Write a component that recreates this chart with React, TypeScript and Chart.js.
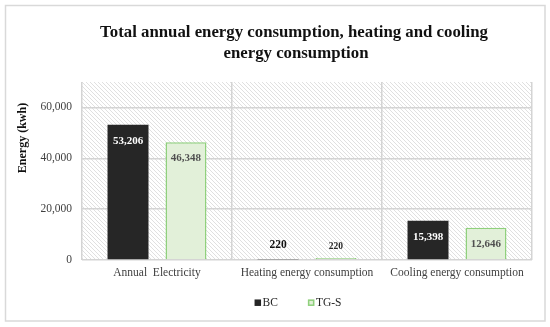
import React, { useEffect, useRef } from "react";
import { Chart, registerables } from "chart.js";

Chart.register(...registerables);

const categories = ["Annual  Electricity", "Heating energy consumption", "Cooling energy consumption"];
const bcValues = [53206, 220, 15398];
const tgsValues = [46348, 220, 12646];
const seriesNames = ["BC", "TG-S"];
const yTicks = [0, 20000, 40000, 60000];
const yMax = 70000;
const titleLines = ["Total annual energy consumption, heating and cooling", "energy consumption"];
const yTitle = "Energy (kwh)";

const SERIF = "'Times New Roman', 'Liberation Serif', serif";
const BC_COLOR = "#262626";
const TG_FILL = "#e2f0d9";
const TG_BORDER = "#8fd07c";
const GRID = "#d4d4d4";

function makeHatch(ctx: CanvasRenderingContext2D) {
  const s = 4;
  const c = document.createElement("canvas");
  c.width = s;
  c.height = s;
  const g = c.getContext("2d")!;
  g.fillStyle = "#ffffff";
  g.fillRect(0, 0, s, s);
  g.strokeStyle = "#e0e0e0";
  g.lineWidth = 1;
  g.beginPath();
  g.moveTo(-1, -1);
  g.lineTo(s + 1, s + 1);
  g.moveTo(-1, s - 1);
  g.lineTo(1, s + 1);
  g.moveTo(s - 1, -1);
  g.lineTo(s + 1, 1);
  g.stroke();
  return ctx.createPattern(c, "repeat")!;
}

const bgPlugin = {
  id: "bgPlugin",
  beforeDraw(chart: any) {
    const { ctx, chartArea: a } = chart;
    ctx.save();
    ctx.fillStyle = "#ffffff";
    ctx.fillRect(0, 0, chart.width, chart.height);
    ctx.strokeStyle = "#d9d9d9";
    ctx.lineWidth = 1.5;
    ctx.strokeRect(5.5, 5.5, 539.5, 315.5);
    ctx.fillStyle = makeHatch(ctx);
    ctx.fillRect(a.left, a.top, a.right - a.left, a.bottom - a.top);
    ctx.restore();
  },
};

const labelPlugin = {
  id: "labelPlugin",
  afterDatasetsDraw(chart: any) {
    const { ctx } = chart;
    ctx.save();
    ctx.textAlign = "center";
    ctx.textBaseline = "middle";
    chart.data.datasets.forEach((ds: any, di: number) => {
      const meta = chart.getDatasetMeta(di);
      meta.data.forEach((el: any, i: number) => {
        const v = ds.data[i] as number;
        const h = Math.abs(el.base - el.y);
        const txt = v.toLocaleString("en-US");
        if (h > 30) {
          ctx.font = `bold 11px ${SERIF}`;
          ctx.fillStyle = di === 0 ? "#ffffff" : "#505050";
          ctx.fillText(txt, el.x, el.y + 16);
        } else {
          ctx.font = di === 0 ? `bold 11.5px ${SERIF}` : `bold 9.5px ${SERIF}`;
          ctx.fillStyle = di === 0 ? "#111111" : "#262626";
          ctx.fillText(txt, el.x, el.base - 14 - (di === 0 ? 0.5 : -1));
        }
      });
    });
    ctx.restore();
  },
};

const textPlugin = {
  id: "textPlugin",
  afterDraw(chart: any) {
    const { ctx } = chart;
    ctx.save();
    ctx.fillStyle = "#111111";
    ctx.font = `bold 16.8px ${SERIF}`;
    ctx.textAlign = "center";
    ctx.textBaseline = "middle";
    ctx.fillText(titleLines[0], 294, 33);
    ctx.fillText(titleLines[1], 296, 54);
    ctx.save();
    ctx.translate(23, 138);
    ctx.rotate(-Math.PI / 2);
    ctx.font = `bold 12px ${SERIF}`;
    ctx.fillText(yTitle, 0, 0);
    ctx.restore();
    ctx.font = `11.5px ${SERIF}`;
    ctx.textAlign = "left";
    const y = 302.7;
    const box = 6.5;
    const w0 = box + 1.5 + ctx.measureText(seriesNames[0]).width;
    const w1 = box + 1.5 + ctx.measureText(seriesNames[1]).width;
    const gap = 30;
    let x = 298 - (w0 + gap + w1) / 2;
    ctx.fillStyle = BC_COLOR;
    ctx.fillRect(x, y - 3.25, box, box);
    ctx.fillStyle = "#262626";
    ctx.fillText(seriesNames[0], x + box + 1.5, y);
    x += w0 + gap;
    ctx.fillStyle = TG_FILL;
    ctx.fillRect(x, y - 3.25, box, box);
    ctx.strokeStyle = TG_BORDER;
    ctx.lineWidth = 1.5;
    ctx.strokeRect(x + 0.75, y - 2.5, box - 1.5, box - 1.5);
    ctx.fillStyle = "#262626";
    ctx.fillText(seriesNames[1], x + box + 1.5, y);
    ctx.restore();
  },
};

export default function App() {
  const ref = useRef<HTMLCanvasElement | null>(null);
  useEffect(() => {
    if (!ref.current) return;
    const chart = new Chart(ref.current, {
      type: "bar",
      data: {
        labels: categories,
        datasets: [
          {
            label: seriesNames[0],
            data: bcValues,
            backgroundColor: BC_COLOR,
            borderWidth: 0,
            barPercentage: 0.707,
            categoryPercentage: 0.773,
          },
          {
            label: seriesNames[1],
            data: tgsValues,
            backgroundColor: TG_FILL,
            borderColor: TG_BORDER,
            borderWidth: 1.5,
            borderSkipped: "start",
            minBarLength: 2,
            barPercentage: 0.707,
            categoryPercentage: 0.773,
          },
        ],
      },
      options: {
        responsive: false,
        animation: false,
        devicePixelRatio: 1,
        layout: { padding: { left: 30, right: 18, top: 82, bottom: 42 } },
        plugins: {
          legend: { display: false },
          title: { display: false },
          tooltip: { enabled: false },
        },
        scales: {
          x: {
            grid: { color: GRID, lineWidth: 1.5, drawTicks: false, offset: true },
            border: { display: false },
            ticks: {
              color: "#404040",
              font: { family: SERIF, size: 11.5 },
              padding: 6,
              maxRotation: 0,
              autoSkip: false,
            },
            afterFit: (s: any) => {
              s.height = 25;
            },
          },
          y: {
            min: 0,
            max: yMax,
            afterBuildTicks: (s: any) => {
              s.ticks = [...yTicks, yMax].map((v) => ({ value: v }));
            },
            grid: {
              color: (c: any) => (c.tick && c.tick.value === yMax ? "rgba(0,0,0,0)" : GRID),
              lineWidth: 1.5,
              drawTicks: false,
            },
            border: { display: false },
            ticks: {
              color: "#404040",
              font: { family: SERIF, size: 11.5 },
              padding: 10,
              callback: (v: any) => (Number(v) === yMax ? "" : Number(v).toLocaleString("en-US")),
            },
            afterFit: (s: any) => {
              s.width = 52;
            },
          },
        },
      },
      plugins: [bgPlugin, labelPlugin, textPlugin],
    } as any);
    return () => chart.destroy();
  }, []);
  return (
    <div style={{ position: "absolute", left: 0, top: 0, width: 550, height: 327 }}>
      <canvas ref={ref} width={550} height={327} style={{ display: "block" }} />
    </div>
  );
}
